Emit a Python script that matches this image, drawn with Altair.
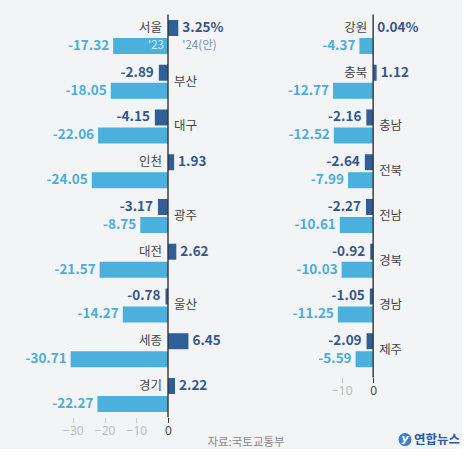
import altair as alt
import pandas as pd

# ---- data ----
left_regions = ["서울", "부산", "대구", "인천", "광주", "대전", "울산", "세종", "경기"]
left_24 = [3.25, -2.89, -4.15, 1.93, -3.17, 2.62, -0.78, 6.45, 2.22]
left_23 = [-17.32, -18.05, -22.06, -24.05, -8.75, -21.57, -14.27, -30.71, -22.27]

right_regions = ["강원", "충북", "충남", "전북", "전남", "경북", "경남", "제주"]
right_24 = [0.04, 1.12, -2.16, -2.64, -2.27, -0.92, -1.05, -2.09]
right_23 = [-4.37, -12.77, -12.52, -7.99, -10.61, -10.03, -11.25, -5.59]

left_ticks = [-30, -20, -10, 0]
right_ticks = [-10, 0]
series_names = ["24", "23"]
annot_24 = "'24(안)"
annot_23 = "'23"
source_text = "자료:국토교통부"
logo_text = "연합뉴스"

DARK = "#2f5f96"
DARK_TXT = "#34578c"
LIGHT = "#4cb0dc"
LIGHT_TXT = "#4aaed8"
BG = "#f3f4f6"
FONT = "Noto Sans CJK KR"


def make_table(regions, v24, v23):
    rows = []
    for i, (r, a, b) in enumerate(zip(regions, v24, v23)):
        lbl = f"{a:.2f}" + ("%" if i == 0 else "")
        rows.append({"region": r, "series": "24", "value": a, "label": lbl, "first": i == 0})
        rows.append({"region": r, "series": "23", "value": b, "label": f"{b:.2f}", "first": i == 0})
    return pd.DataFrame(rows)


def panel(regions, v24, v23, domain, width, height, ticks, pad_outer, align, extra=None):
    df = make_table(regions, v24, v23)
    base = alt.Chart(df)
    yenc = alt.Y("region:N", sort=regions, axis=None,
                 scale=alt.Scale(paddingInner=0, paddingOuter=pad_outer, align=align))
    yoff = alt.YOffset("series:N", scale=alt.Scale(domain=series_names, paddingInner=0.111, paddingOuter=0.299))
    xenc = alt.X("value:Q", scale=alt.Scale(domain=domain, nice=False, zero=False),
                 axis=alt.Axis(values=ticks, title=None, domain=False, grid=False, tickSize=5,
                               labelFontSize=12, labelFont="Noto Sans", labelPadding=3,
                               labelColor=alt.condition("datum.value == 0", alt.value("#444"), alt.value("#bbbbbb")),
                               tickColor=alt.condition("datum.value == 0", alt.value("#333"), alt.value("#c8c8c8"))))

    bars = base.mark_bar().encode(
        x=xenc, x2=alt.datum(0), y=yenc, yOffset=yoff,
        color=alt.Color("series:N", scale=alt.Scale(domain=series_names, range=[DARK, LIGHT]), legend=None),
    )
    zero = alt.Chart(pd.DataFrame({"z": [0]})).mark_rule(color="#333", strokeWidth=1.4).encode(x="z:Q")

    pos24 = base.transform_filter("datum.series == '24' && datum.value >= 0").mark_text(
        align="left", baseline="middle", dx=4, font=FONT, fontSize=13.5, fontWeight="bold", color=DARK_TXT
    ).encode(x="value:Q", y=yenc, yOffset=yoff, text="label:N")
    neg24 = base.transform_filter("datum.series == '24' && datum.value < 0").mark_text(
        align="right", baseline="middle", dx=-5, font=FONT, fontSize=13.5, fontWeight="bold", color=DARK_TXT
    ).encode(x="value:Q", y=yenc, yOffset=yoff, text="label:N")
    lab23 = base.transform_filter("datum.series == '23'").mark_text(
        align="right", baseline="middle", dx=-4, font=FONT, fontSize=13.5, fontWeight="bold", color=LIGHT_TXT
    ).encode(x="value:Q", y=yenc, yOffset=yoff, text="label:N")
    name_pos = base.transform_filter("datum.series == '24' && datum.value >= 0").mark_text(
        align="right", baseline="middle", dx=-6, font=FONT, fontSize=12.5, color="#444"
    ).encode(x=alt.datum(0), y=yenc, yOffset=yoff, text="region:N")
    name_neg = base.transform_filter("datum.series == '24' && datum.value < 0").mark_text(
        align="left", baseline="middle", dx=6, font=FONT, fontSize=12.5, color="#444"
    ).encode(x=alt.datum(0), y=yenc, text="region:N")

    layers = [bars, zero, pos24, neg24, lab23, name_pos, name_neg]
    if extra:
        layers += extra(base, yenc, yoff)
    return alt.layer(*layers).properties(width=width, height=height)


def left_extra(base, yenc, yoff):
    a24 = base.transform_filter("datum.first && datum.series == '24'").transform_calculate(
        t=f'"{annot_24}"', s='"23"'
    ).mark_text(align="left", baseline="middle", dx=4, font=FONT, fontSize=11.5, color="#6f8db2").encode(
        x="value:Q", y=yenc, yOffset=alt.YOffset("s:N"), text="t:N")
    a23 = base.transform_filter("datum.first && datum.series == '23'").transform_calculate(
        t=f'"{annot_23}"'
    ).mark_text(align="right", baseline="middle", dx=-4, font=FONT, fontSize=11.5, color="#d5eef9").encode(
        x=alt.datum(0), y=yenc, yOffset=yoff, text="t:N")
    src = alt.Chart(pd.DataFrame({"t": [source_text]})).mark_text(
        align="center", baseline="middle", font=FONT, fontSize=11.5, color="#8a8a8a"
    ).encode(x=alt.value(241), y=alt.value(428), text="t:N")
    return [a24, a23, src]


def right_extra(base, yenc, yoff):
    dot = alt.Chart(pd.DataFrame({"t": [logo_text]})).mark_point(
        filled=True, size=170, shape="circle", color="#3b7fd0", opacity=1
    ).encode(x=alt.value(155), y=alt.value(425))
    glyph = alt.Chart(pd.DataFrame({"t": ["y"]})).mark_text(
        align="center", baseline="middle", font="DejaVu Sans", fontSize=11, fontWeight="bold",
        fontStyle="italic", color="white"
    ).encode(x=alt.value(155), y=alt.value(424), text="t:N")
    logo = alt.Chart(pd.DataFrame({"t": [logo_text]})).mark_text(
        align="left", baseline="middle", font=FONT, fontSize=12.5, fontWeight="bold", color="#2c5aa6"
    ).encode(x=alt.value(164), y=alt.value(425), text="t:N")
    return [dot, glyph, logo]


step = 44.75
left = panel(left_regions, left_24, left_23, [-51.42, 24.29], 240, 9 * step, left_ticks, 0, 0.5, left_extra)
right = panel(right_regions, right_24, right_23, [-39.21, 28.30], 212, 8 * step + 5, right_ticks, 0.0559, 0, right_extra)

chart = alt.hconcat(left, right, spacing=5, bounds="flush").properties(
    background=BG,
    padding={"left": 5, "top": 13.6, "right": 0, "bottom": 0},
).configure_view(strokeWidth=0).configure_concat(spacing=5)

chart.save("out.html", embed_options={"renderer": "svg", "actions": False})
